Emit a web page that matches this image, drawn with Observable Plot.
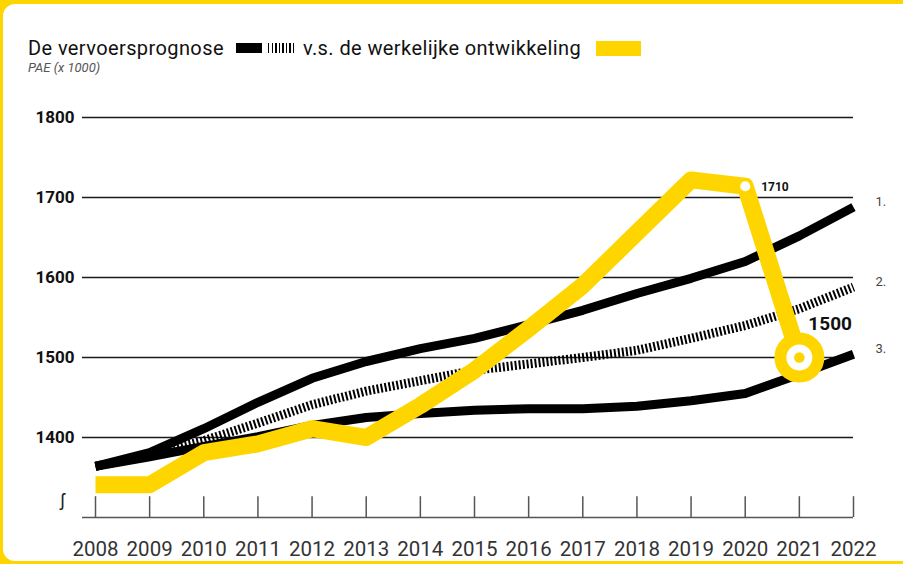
<!DOCTYPE html>
<html><head><meta charset="utf-8">
<script src="https://cdn.jsdelivr.net/npm/d3@7"></script>
<script src="https://cdn.jsdelivr.net/npm/@observablehq/plot@0.6"></script>
<style>
html,body{margin:0;padding:0;background:#FFD500;width:903px;height:564px;overflow:hidden;font-family:Roboto,"DejaVu Sans",sans-serif;}
#card{position:absolute;left:3px;top:4px;width:940px;height:557px;background:#fff;border-radius:12px;}
#title{position:absolute;left:28px;top:36px;font-size:20px;letter-spacing:0.4px;color:#111;white-space:nowrap;display:flex;align-items:center;}
#sub{position:absolute;left:28px;top:60px;font-size:13px;font-style:italic;color:#555;}
.sw{display:inline-block;height:10px;}
#chart{position:absolute;left:0;top:90px;}
</style></head>
<body>
<div id="card"></div>
<div id="title"><span>De vervoersprognose</span>
<span class="sw" style="width:26px;background:#000;margin-left:12px"></span>
<span class="sw" style="width:26px;margin-left:6px;background:repeating-linear-gradient(90deg,#000 0 1.5px,#fff 1.5px 3.5px)"></span>
<span style="margin-left:9px">v.s. de werkelijke ontwikkeling</span>
<span style="display:inline-block;width:45px;height:15px;background:#FFD500;margin-left:15px"></span></div>
<div id="sub">PAE (x 1000)</div>
<div id="chart"></div>
<script>
const years = [2008,2009,2010,2011,2012,2013,2014,2015,2016,2017,2018,2019,2020,2021,2022];
const forecast1 = [1364,1381,1411,1444,1474,1495,1511,1524,1541,1559,1580,1599,1620,1652,1688];
const forecast2 = [1364,1378,1396,1418,1441,1458,1471,1484,1492,1500,1509,1524,1540,1561,1588];
const forecast3 = [1364,1376,1389,1401,1415,1425,1430,1434,1436,1436,1439,1446,1455,1479,1504];
const actualYears = [2008,2009,2010,2011,2012,2013,2014,2015,2016,2017,2018,2019,2020,2021];
const actual = [1341,1341,1381,1392,1411,1400,1440,1484,1536,1590,1656,1722,1714,1500];
const yTicks = [1400,1500,1600,1700,1800];
const seriesLabels = ["1.","2.","3."];
const calloutSmall = {year:2020, value:1714, label:"1710"};
const calloutBig = {year:2021, value:1500, label:"1500"};
const yMin = 1300, yMax = 1800;

const YEL = "#FFD500";
const f1 = years.map((x,i)=>({x, y:forecast1[i]}));
const f2 = years.map((x,i)=>({x, y:forecast2[i]}));
const f3 = years.map((x,i)=>({x, y:forecast3[i]}));
const act = actualYears.map((x,i)=>({x, y:actual[i]}));
const ends = [forecast1, forecast2, forecast3].map((s,i)=>({x:years[years.length-1], y:s[s.length-1], t:seriesLabels[i]}));

const chart = Plot.plot({
  width: 903, height: 474,
  marginLeft: 82, marginRight: 50, marginTop: 27, marginBottom: 47,
  insetLeft: 13, insetRight: 0,
  style: {fontFamily: "Roboto, sans-serif", background: "transparent"},
  x: {domain: [years[0], years[years.length-1]]},
  y: {domain: [yMin, yMax]},
  marks: [
    Plot.ruleY(yTicks, {stroke: "#1a1a1a", strokeWidth: 1.3}),
    Plot.ruleY([yMin], {stroke: "#555", strokeWidth: 1.5}),
    Plot.ruleX(years, {y1: yMin, y2: yMin + 26, stroke: "#555", strokeWidth: 1.5}),
    Plot.axisX(years, {tickSize: 0, tickPadding: 24, tickFormat: d => String(d), fontSize: 20.5, fill: "#333", label: null}),
    Plot.axisY(yTicks, {tickSize: 0, tickPadding: 8, tickFormat: d => String(d), fontSize: 17, fontWeight: "bold", fill: "#111", label: null}),
    Plot.text([0], {frameAnchor: "bottom-left", dx: -22, dy: -12, text: d => "ʃ", fontSize: 18, fill: "#222"}),
    Plot.line(f3, {x: "x", y: "y", stroke: "#000", strokeWidth: 9, strokeLinecap: "butt", strokeLinejoin: "round"}),
    Plot.line(f2, {x: "x", y: "y", stroke: "#000", strokeWidth: 9, strokeDasharray: "2,2", strokeLinecap: "butt", strokeLinejoin: "round"}),
    Plot.line(f1, {x: "x", y: "y", stroke: "#000", strokeWidth: 9, strokeLinecap: "butt", strokeLinejoin: "round"}),
    Plot.line(act, {x: "x", y: "y", stroke: YEL, strokeWidth: 17, strokeLinecap: "butt", strokeLinejoin: "round"}),
    Plot.dot([calloutSmall], {x: "year", y: "value", r: 5, fill: "#fff", stroke: null}),
    Plot.text([calloutSmall], {x: "year", y: "value", text: "label", dx: 16, dy: 1, textAnchor: "start", fontSize: 12, fontWeight: "bold", fill: "#111"}),
    Plot.dot([calloutBig], {x: "year", y: "value", r: 19, fill: "#fff", stroke: YEL, strokeWidth: 12}),
    Plot.dot([calloutBig], {x: "year", y: "value", r: 5.3, fill: YEL, stroke: null}),
    Plot.text([calloutBig], {x: "year", y: "value", text: "label", dx: 9, dy: -34, textAnchor: "start", fontSize: 19, fontWeight: "bold", fill: "#111"}),
    Plot.text(ends, {x: "x", y: "y", text: "t", dx: 22, dy: -5, textAnchor: "start", fontSize: 13, fill: "#444"})
  ]
});
document.getElementById("chart").appendChild(chart);
</script>
</body></html>
